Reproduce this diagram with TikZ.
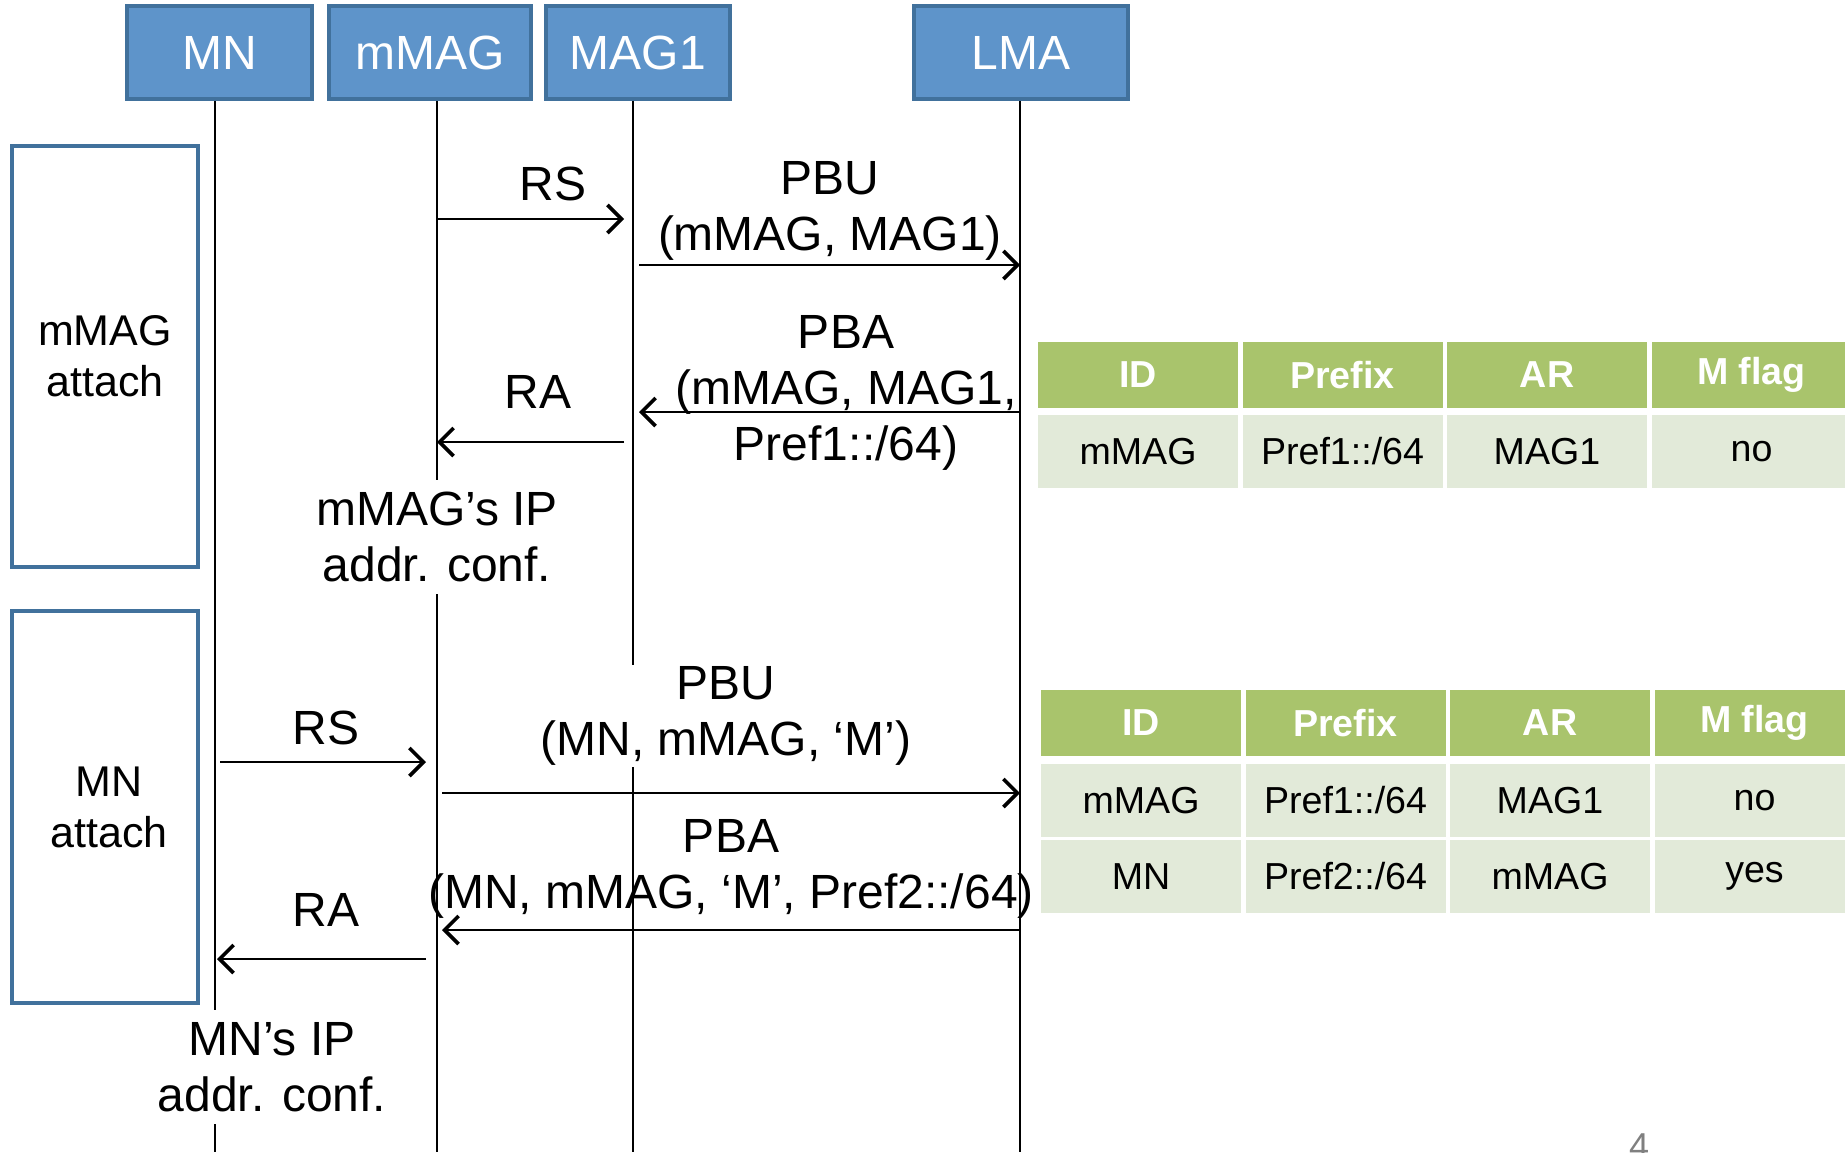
\documentclass[tikz,border=0pt]{standalone}
\usepackage{fontspec}
\setmainfont{Liberation Sans}
\usetikzlibrary{arrows.meta,chains,positioning}

\definecolor{actorfill}{HTML}{5E94CA}
\definecolor{actorline}{HTML}{41719C}
\definecolor{headgreen}{HTML}{A9C46C}
\definecolor{rowgreen}{HTML}{E2EAD9}
\definecolor{rowpale}{HTML}{EFF3EA}

\tikzset{
    actor/.style={draw=actorline, fill=actorfill, line width=1.75pt, text=white,
                  minimum height=46.5pt, inner sep=0pt, font=\fontsize{24}{28}\selectfont},
    phase/.style={draw=actorline, line width=1.75pt, minimum width=93pt, align=center,
                  font=\fontsize{21.5}{25.5}\selectfont},
    life/.style={line width=0.8pt},
    msg/.style={line width=1.1pt, -{Straight Barb[length=7pt,width=14pt,line width=1.8pt]}},
    lbl/.style={align=center, inner sep=1pt, font=\fontsize{24}{28}\selectfont},
    hcell/.style={fill=headgreen, text=white, font=\fontsize{18.8}{20}\selectfont\bfseries,
                  minimum width=100pt, minimum height=33pt, inner sep=0pt, outer sep=0pt, on chain},
    cell/.style={fill=rowgreen, font=\fontsize{18.8}{20}\selectfont,
                 minimum width=100pt, minimum height=36.5pt, inner sep=0pt, outer sep=0pt, on chain},
}

\begin{document}
\begin{tikzpicture}[x=0.5pt, y=-0.5pt]
    \useasboundingbox (0,0) rectangle (1845,1152);

    % entities
    \node[actor, minimum width=92.5pt] (mn)   at (219.5,52.5) {MN};
    \node[actor, minimum width=101pt]  (mmag) at (430,52.5)   {mMAG};
    \node[actor, minimum width=92pt]   (mag1) at (638,52.5)   {MAG1};
    \node[actor, minimum width=107pt]  (lma)  at (1021,52.5)  {LMA};

    \coordinate (mnend)   at (215,1152);
    \coordinate (mmagend) at (437,1152);
    \coordinate (mag1end) at (633,1152);
    \coordinate (lmaend)  at (1020,1152);

    \draw[life] (mn.south -| mnend) -- (mnend);
    \draw[life] (mmag.south -| mmagend) -- (mmagend);
    \draw[life] (mag1.south -| mag1end) -- (mag1end);
    \draw[life] (lma.south -| lmaend) -- (lmaend);

    % phases
    \node[phase, minimum height=210.5pt] (ph1) at (105,356.5) {mMAG\\attach};
    \node[phase, minimum height=196pt]   (ph2) at (105,807)   {\hspace*{4pt}MN\\\hspace*{4pt}attach};

    % mMAG attach
    \coordinate (rs1a) at (437,219);  \coordinate (rs1b) at (624,219);
    \coordinate (pbu1a) at (639,265); \coordinate (pbu1b) at (1020,265);
    \coordinate (pba1a) at (1020,412); \coordinate (pba1b) at (639,412);
    \coordinate (ra1a) at (624,442);  \coordinate (ra1b) at (437,442);

    \draw[msg] (rs1a) -- (rs1b);
    \draw[msg] (pbu1a) -- (pbu1b);
    \draw[msg] (pba1a) -- (pba1b);
    \draw[msg] (ra1a) -- (ra1b);

    \node[lbl] (rs1)  at (553,184) {RS};
    \node[lbl] (pbu1) at (830,211) {PBU\\(mMAG, MAG1)};
    \node[lbl] (pba1) at (846,393) {PBA\\(mMAG, MAG1,\\Pref1::/64)};
    \node[lbl] (ra1)  at (538,392) {RA};
    \node[lbl, fill=white, inner ysep=6pt] (conf1) at (437,537) {mMAG’s IP\\addr. conf.};

    % MN attach
    \coordinate (rs2a) at (220,762);  \coordinate (rs2b) at (426,762);
    \coordinate (pbu2a) at (442,793); \coordinate (pbu2b) at (1020,793);
    \coordinate (pba2a) at (1020,930); \coordinate (pba2b) at (442,930);
    \coordinate (ra2a) at (426,959);  \coordinate (ra2b) at (217,959);

    \node[lbl, fill=white, inner ysep=1pt] (pbu2) at (726,716) {PBU\\(MN, mMAG, ‘M’)};
    \draw[msg] (rs2a) -- (rs2b);
    \draw[msg] (pbu2a) -- (pbu2b);
    \draw[msg] (pba2a) -- (pba2b);
    \draw[msg] (ra2a) -- (ra2b);

    \node[lbl] (rs2)  at (326,728) {RS};
    \node[lbl] (pba2) at (731,869) {PBA\\(MN, mMAG, ‘M’, Pref2::/64)};
    \node[lbl] (ra2)  at (326,910) {RA};
    \node[lbl, fill=white, inner ysep=6pt] (conf2) at (272,1067) {MN’s IP\\addr. conf.};

    % binding cache after mMAG attach
    \begin{scope}[start chain=going right, node distance=2.25pt]
    \node[hcell, anchor=north west] (ta-id) at (1038,342) {ID};
    \node[hcell] (ta-pre) {Prefix};
    \node[hcell] (ta-ar)  {AR};
    \node[hcell] (ta-m)   {M flag};
    \end{scope}
    \begin{scope}[start chain=going right, node distance=2.25pt]
    \node[cell, anchor=north west] (ta1-id) at (1038,415) {mMAG};
    \node[cell] (ta1-pre) {Pref1::/64};
    \node[cell] (ta1-ar)  {MAG1};
    \node[cell] (ta1-m)   {no};
    \end{scope}

    % binding cache after MN attach
    \begin{scope}[start chain=going right, node distance=2.25pt]
    \node[hcell, anchor=north west] (tb-id) at (1041,690) {ID};
    \node[hcell] (tb-pre) {Prefix};
    \node[hcell] (tb-ar)  {AR};
    \node[hcell] (tb-m)   {M flag};
    \end{scope}
    \begin{scope}[start chain=going right, node distance=2.25pt]
    \node[cell, anchor=north west] (tb1-id) at (1041,764) {mMAG};
    \node[cell] (tb1-pre) {Pref1::/64};
    \node[cell] (tb1-ar)  {MAG1};
    \node[cell] (tb1-m)   {no};
    \end{scope}
    \begin{scope}[start chain=going right, node distance=2.25pt, every node/.append style={fill=rowpale}]
    \node[cell, anchor=north west] (tb2-id) at (1041,840) {MN};
    \node[cell] (tb2-pre) {Pref2::/64};
    \node[cell] (tb2-ar)  {mMAG};
    \node[cell] (tb2-m)   {yes};
    \end{scope}

    \node[gray, anchor=base, inner sep=0pt, font=\fontsize{18}{20}\selectfont] (page) at (1639,1158) {4};
\end{tikzpicture}
\end{document}
